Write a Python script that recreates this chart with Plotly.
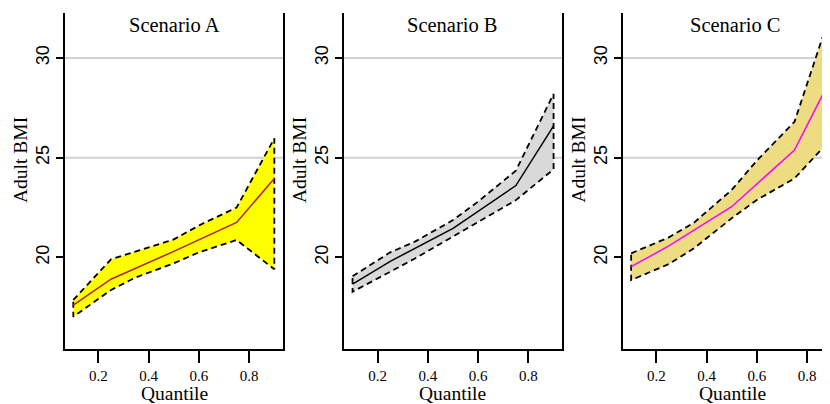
import plotly.graph_objects as go

# ---- data ----
quantiles_mid = [0.1, 0.25, 0.5, 0.75, 0.9]
quantiles_band = [0.1, 0.25, 0.35, 0.5, 0.6, 0.75, 0.9]

a_median = [17.6, 18.9, 20.3, 21.75, 23.95]
a_upper = [17.86, 19.9, 20.3, 20.9, 21.6, 22.5, 25.97]
a_lower = [17.02, 18.36, 19.0, 19.7, 20.25, 20.87, 19.4]

b_median = [18.65, 19.8, 21.45, 23.6, 26.6]
b_upper = [19.05, 20.25, 20.8, 21.87, 22.8, 24.35, 28.2]
b_lower = [18.27, 19.28, 19.95, 21.03, 21.78, 22.87, 24.42]

c_median = [19.53, 20.57, 22.54, 25.38, 29.1]
c_upper = [20.2, 21.0, 21.74, 23.38, 24.85, 26.8, 32.5]
c_lower = [18.86, 19.66, 20.45, 21.96, 22.88, 23.96, 26.0]

panel_titles = ["Scenario A", "Scenario B", "Scenario C"]
x_ticks = [0.2, 0.4, 0.6, 0.8]
x_tick_labels = ["0.2", "0.4", "0.6", "0.8"]
y_ticks = [20, 25, 30]
y_tick_labels = ["20", "25", "30"]
ref_lines = [25, 30]

panels = [
    dict(median=a_median, upper=a_upper, lower=a_lower, fill="#FFFF00", line="#B22222"),
    dict(median=b_median, upper=b_upper, lower=b_lower, fill="#D9D9D9", line="#000000"),
    dict(median=c_median, upper=c_upper, lower=c_lower, fill="#EEDC82", line="#FF00FF"),
]

# page body has an 8px margin; work in screen pixels and convert
OFF = 8
SW, SH = 830, 404
W, H = SW - OFF, SH - OFF
SERIF = "Liberation Serif, Times New Roman, serif"
SANS = "Liberation Sans, Arial, sans-serif"


def fx(sx):
    return (sx - OFF) / W


def fy(sy):
    return (H - (sy - OFF)) / H


# screen-pixel geometry
left_px = [65, 344, 622.7]
pw = 218.0
top_px, bot_px = 13, 349
xr0 = [0.067, 0.066, 0.0664]
ppu = 251.3

fig = go.Figure()
for i, p in enumerate(panels):
    xa = "x" if i == 0 else f"x{i+1}"
    ya = "y" if i == 0 else f"y{i+1}"
    bx = quantiles_band + quantiles_band[::-1] + [quantiles_band[0]]
    by = p["upper"] + p["lower"][::-1] + [p["upper"][0]]
    fig.add_trace(go.Scatter(x=bx, y=by, xaxis=xa, yaxis=ya, mode="lines",
                             fill="toself", fillcolor=p["fill"],
                             line=dict(color="black", width=1.8, dash="6px,4px"),
                             hoverinfo="skip", showlegend=False))
    fig.add_trace(go.Scatter(x=quantiles_mid, y=p["median"], xaxis=xa, yaxis=ya,
                             mode="lines", line=dict(color=p["line"], width=1.5),
                             showlegend=False))
    for v in ref_lines:
        fig.add_shape(type="line", xref=f"{xa} domain", yref=ya, x0=0, x1=1, y0=v, y1=v,
                      line=dict(color="#D0D0D0", width=2), layer="below")

layout = dict(width=W, height=H, margin=dict(l=0, r=0, t=0, b=0),
              paper_bgcolor="white", plot_bgcolor="white", showlegend=False)

ydom = [fy(bot_px), fy(top_px)]
annotations = []
for i in range(3):
    l = left_px[i]
    r = min(l + pw, SW)
    xdom = [fx(l), min(fx(r), 1.0)]
    xrange = [xr0[i], xr0[i] + (r - l) / ppu]
    suf = "" if i == 0 else str(i + 1)
    layout[f"xaxis{suf}"] = dict(domain=xdom, range=xrange, anchor=f"y{suf}",
                                 showline=True, linecolor="black", linewidth=2,
                                 ticks="outside", ticklen=12, tickwidth=2, tickcolor="black",
                                 tickvals=x_ticks, ticktext=x_tick_labels,
                                 tickfont=dict(family=SERIF, size=15, color="black"),
                                 showgrid=False, zeroline=False, fixedrange=True)
    layout[f"yaxis{suf}"] = dict(domain=ydom, range=[15.4, 32.26], anchor=f"x{suf}",
                                 showline=True, linecolor="black", linewidth=2,
                                 mirror=(i < 2),
                                 ticks="outside", ticklen=7, tickwidth=2, tickcolor="black",
                                 tickvals=y_ticks, ticktext=y_tick_labels, tickangle=-90,
                                 tickfont=dict(family=SANS, size=18, color="black"),
                                 showgrid=False, zeroline=False, fixedrange=True)
    cx = (l + l + pw) / 2 if i < 2 else 735
    annotations.append(dict(text=panel_titles[i], x=fx(cx), y=fy(25),
                            xref="paper", yref="paper", showarrow=False,
                            xanchor="center", yanchor="middle",
                            font=dict(family=SERIF, size=20.5, color="black")))
    qx = (l + l + pw) / 2 if i < 2 else 732
    annotations.append(dict(text="Quantile", x=fx(qx), y=fy(393),
                            xref="paper", yref="paper", showarrow=False,
                            xanchor="center", yanchor="middle",
                            font=dict(family=SERIF, size=19.5, color="black")))
    annotations.append(dict(text="Adult BMI", x=fx(l - 45), y=fy(160),
                            xref="paper", yref="paper", showarrow=False, textangle=-90,
                            xanchor="center", yanchor="middle",
                            font=dict(family=SERIF, size=19.5, color="black")))
layout["annotations"] = annotations
fig.update_layout(**layout)
fig.write_html("out.html")
